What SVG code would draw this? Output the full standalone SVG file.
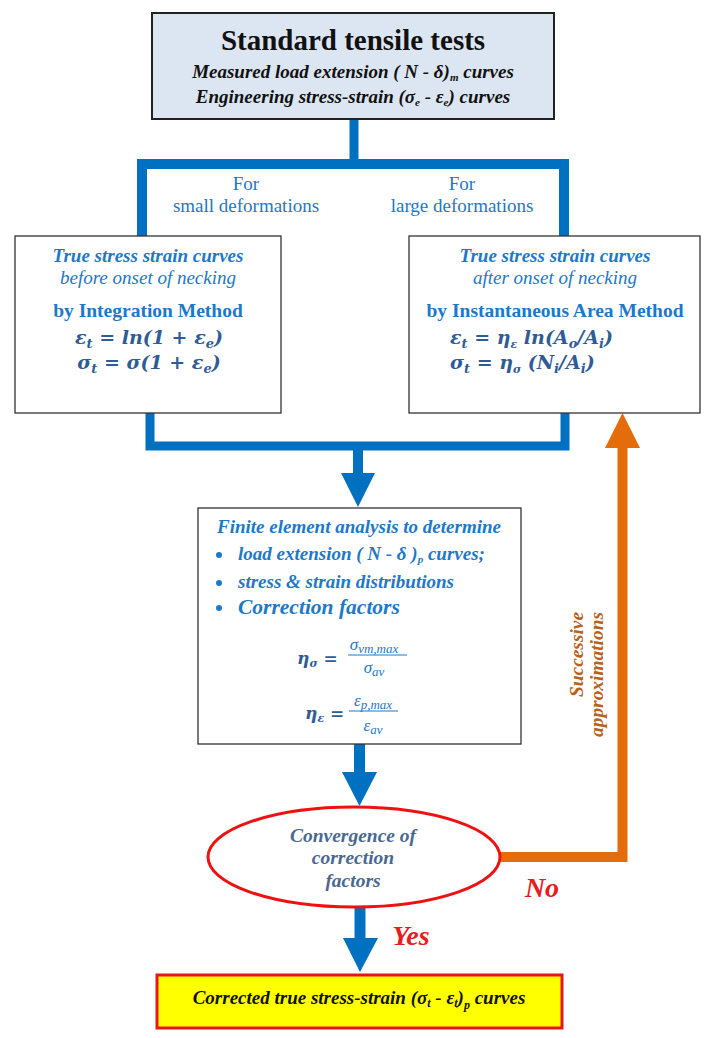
<svg xmlns="http://www.w3.org/2000/svg" width="713" height="1038" viewBox="0 0 713 1038">
<defs>
<style>
text{font-family:"Liberation Serif","Times New Roman",serif}
.bi{font-weight:bold;font-style:italic}
.blue{fill:#1e78c8}
.eq{fill:#2f5b96;font-weight:bold;font-style:italic;font-size:19px;font-family:"DejaVu Serif","Liberation Serif",serif}
.box{fill:#ffffff;stroke:#333;stroke-width:1.3}
.conn{fill:none;stroke:#0070c0}
.head{fill:#0070c0}
.fx{fill:#1e78c8;font-style:italic}
</style>
</defs>
<rect width="713" height="1038" fill="#ffffff"/>

<g id="connectors">
  <line class="conn" x1="354" y1="120" x2="354" y2="164" stroke-width="9"/>
  <polyline class="conn" points="142,236 142,164 564,164 564,236" stroke-width="10"/>
  <polyline class="conn" points="150,413 150,446 565,446 565,413" stroke-width="9"/>
  <line class="conn" x1="358" y1="446" x2="358" y2="475" stroke-width="10"/>
  <polygon class="head" points="341,473 375,473 358,507"/>
  <line class="conn" x1="359.5" y1="744" x2="359.5" y2="774" stroke-width="11"/>
  <polygon class="head" points="342,772 377,772 359.5,806"/>
  <line class="conn" x1="360" y1="907" x2="360" y2="940" stroke-width="11"/>
  <polygon class="head" points="343,938 378,938 360,972"/>
  <polyline points="500,857 622.5,857 622.5,446" fill="none" stroke="#e46c0a" stroke-width="10"/>
  <polygon points="605,448 640,448 622.5,413" fill="#e46c0a"/>
</g>

<g id="labels">
  <text class="blue" x="246" y="190" font-size="19" text-anchor="middle">For</text>
  <text class="blue" x="246" y="212" font-size="19" text-anchor="middle">small deformations</text>
  <text class="blue" x="462" y="190" font-size="19" text-anchor="middle">For</text>
  <text class="blue" x="462" y="212" font-size="19" text-anchor="middle">large deformations</text>
  <text class="bi" x="542" y="897" font-size="28" fill="#e81c1c" text-anchor="middle">No</text>
  <text class="bi" x="411" y="945" font-size="28" fill="#e81c1c" text-anchor="middle">Yes</text>
  <text class="bi" transform="translate(583,612) rotate(-90)" text-anchor="end" font-size="19" fill="#b8601c" textLength="85" lengthAdjust="spacingAndGlyphs">Successive</text>
  <text class="bi" transform="translate(603,612) rotate(-90)" text-anchor="end" font-size="19" fill="#b8601c" textLength="125" lengthAdjust="spacingAndGlyphs">approximations</text>
</g>

<g id="node-standard">
  <rect x="152" y="13" width="402" height="106" fill="#dce6f2" stroke="#222" stroke-width="2"/>
  <text x="353" y="50" font-size="29" font-weight="bold" text-anchor="middle" fill="#111">Standard tensile tests</text>
  <text class="bi" x="353" y="78" font-size="19" text-anchor="middle" fill="#111">Measured load extension ( N - δ)<tspan font-size="11" dy="3">m</tspan><tspan dy="-3"> curves</tspan></text>
  <text class="bi" x="353" y="103" font-size="19" text-anchor="middle" fill="#111">Engineering stress-strain (σ<tspan font-size="11" dy="3">e</tspan><tspan dy="-3"> - ε</tspan><tspan font-size="11" dy="3">e</tspan><tspan dy="-3">) curves</tspan></text>
</g>

<g id="node-before-necking">
  <rect class="box" x="15" y="236" width="266" height="177" stroke="#111"/>
  <text class="bi blue" x="148" y="262" font-size="19" text-anchor="middle">True stress strain curves</text>
  <text class="blue" x="148" y="284" font-size="19" font-style="italic" text-anchor="middle">before onset of necking</text>
  <text class="blue" x="148" y="317" font-size="19.5" font-weight="bold" text-anchor="middle">by Integration Method</text>
  <text class="eq" x="149" y="344" text-anchor="middle">ε<tspan font-size="13" dy="4">t</tspan><tspan dy="-4"> = ln(1 + ε</tspan><tspan font-size="13" dy="4">e</tspan><tspan dy="-4">)</tspan></text>
  <text class="eq" x="149" y="369" text-anchor="middle">σ<tspan font-size="13" dy="4">t</tspan><tspan dy="-4"> = σ(1 + ε</tspan><tspan font-size="13" dy="4">e</tspan><tspan dy="-4">)</tspan></text>
</g>

<g id="node-after-necking">
  <rect class="box" x="409" y="236" width="291" height="177" stroke="#555"/>
  <text class="bi blue" x="555" y="262" font-size="19" text-anchor="middle">True stress strain curves</text>
  <text class="blue" x="555" y="284" font-size="19" font-style="italic" text-anchor="middle">after onset of necking</text>
  <text class="blue" x="555" y="317" font-size="19.5" font-weight="bold" text-anchor="middle">by Instantaneous Area Method</text>
  <text class="eq" x="450" y="344">ε<tspan font-size="13" dy="4">t</tspan><tspan dy="-4"> = η</tspan><tspan font-size="11" dy="4">ε</tspan><tspan dy="-4"> ln(A</tspan><tspan font-size="13" dy="4">o</tspan><tspan dy="-4">/A</tspan><tspan font-size="13" dy="4">i</tspan><tspan dy="-4">)</tspan></text>
  <text class="eq" x="450" y="369">σ<tspan font-size="13" dy="4">t</tspan><tspan dy="-4"> = η</tspan><tspan font-size="11" dy="4">σ</tspan><tspan dy="-4"> (N</tspan><tspan font-size="13" dy="4">i</tspan><tspan dy="-4">/A</tspan><tspan font-size="13" dy="4">i</tspan><tspan dy="-4">)</tspan></text>
</g>

<g id="node-fea">
  <rect class="box" x="198" y="508" width="323" height="236" stroke="#555"/>
  <text class="bi blue" x="217" y="533" font-size="19">Finite element analysis to determine</text>
  <circle cx="219" cy="555" r="3" fill="#1e78c8"/>
  <text class="bi blue" x="238" y="560" font-size="19">load extension ( N - δ )<tspan font-size="11" dy="3">p</tspan><tspan dy="-3"> curves;</tspan></text>
  <circle cx="219" cy="583" r="3" fill="#1e78c8"/>
  <text class="bi blue" x="238" y="588" font-size="19">stress &amp; strain distributions</text>
  <circle cx="219" cy="608" r="3" fill="#1e78c8"/>
  <text class="bi blue" x="238" y="614" font-size="21.5">Correction factors</text>
  <text class="eq" x="297" y="664" style="font-size:17px">η<tspan font-size="11" dy="3">σ</tspan><tspan dy="-3"> =</tspan></text>
  <text class="fx" x="374" y="650" font-size="17" text-anchor="middle">σ<tspan font-size="13" dy="3">vm,max</tspan></text>
  <line x1="348" y1="655" x2="407" y2="655" stroke="#1e78c8" stroke-width="1"/>
  <text class="fx" x="374" y="673" font-size="17" text-anchor="middle">σ<tspan font-size="13" dy="3">av</tspan></text>
  <text class="eq" x="305" y="719" style="font-size:17px">η<tspan font-size="11" dy="3">ε</tspan><tspan dy="-3"> =</tspan></text>
  <text class="fx" x="373" y="706" font-size="17" text-anchor="middle">ε<tspan font-size="13" dy="3">p,max</tspan></text>
  <line x1="349" y1="711" x2="398" y2="711" stroke="#1e78c8" stroke-width="1"/>
  <text class="fx" x="373" y="731" font-size="17" text-anchor="middle">ε<tspan font-size="13" dy="3">av</tspan></text>
</g>

<g id="node-convergence">
  <ellipse cx="354" cy="857" rx="146" ry="50" fill="#ffffff" stroke="#ee1111" stroke-width="3"/>
  <text class="bi" x="353" y="842" font-size="19.5" fill="#4a6890" text-anchor="middle">Convergence of</text>
  <text class="bi" x="353" y="864" font-size="19.5" fill="#4a6890" text-anchor="middle">correction</text>
  <text class="bi" x="353" y="887" font-size="19.5" fill="#4a6890" text-anchor="middle">factors</text>
</g>

<g id="node-corrected">
  <rect x="157" y="975" width="405" height="53" fill="#ffff00" stroke="#e8141c" stroke-width="3"/>
  <text class="bi" x="359" y="1004" font-size="19" fill="#111" text-anchor="middle">Corrected true stress-strain (σ<tspan font-size="12" dy="3">t</tspan><tspan dy="-3"> - ε</tspan><tspan font-size="12" dy="3">t</tspan><tspan dy="-3">)</tspan><tspan font-size="12" dy="5">p</tspan><tspan dy="-5"> curves</tspan></text>
</g>
</svg>
